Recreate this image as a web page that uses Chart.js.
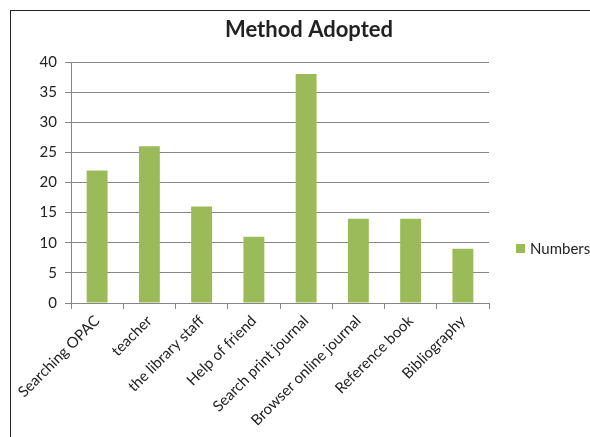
<!DOCTYPE html>
<html>
<head>
<meta charset="utf-8">
<script src="https://cdn.jsdelivr.net/npm/chart.js@4.4.0/dist/chart.umd.min.js"></script>
<style>
  html, body { margin: 0; padding: 0; background: #fff; overflow: hidden; width: 590px; height: 437px; }
  body { position: relative; }
  #frame { position: absolute; left: 10px; top: 10px; width: 580px; height: 427px; border-top: 1.5px solid #222; border-left: 1.5px solid #222; box-sizing: border-box; background: #fff; overflow: hidden; }
  #frame canvas { position: absolute; left: 0; top: 0; }
</style>
</head>
<body>
<div id="frame"><canvas id="c" width="600" height="440"></canvas></div>
<script>
const categories = ["Searching OPAC", "teacher", "the library staff", "Help of friend", "Search print journal", "Browser online journal", "Reference book", "Bibliography"];
const numbers = [22, 26, 16, 11, 38, 14, 14, 9];
const seriesName = "Numbers";
const chartTitle = "Method Adopted";
const yTicks = [0, 5, 10, 15, 20, 25, 30, 35, 40];

const FONT = "Lato, 'Open Sans', sans-serif";
const GREEN = "#9BBB59";
const GRID = "#868686";

const extrasPlugin = {
  id: 'extras',
  afterDraw(chart) {
    const ctx = chart.ctx;
    const ds = chart.data.datasets[0];
    ctx.save();
    // title
    ctx.fillStyle = "#222";
    ctx.font = "bold 22px " + FONT;
    ctx.textAlign = "center";
    ctx.textBaseline = "middle";
    ctx.fillText(chartTitle, 298, 19);
    // legend
    ctx.fillStyle = ds.backgroundColor;
    ctx.fillRect(505, 233, 9, 9);
    ctx.fillStyle = "#222";
    ctx.font = "15px " + FONT;
    ctx.textAlign = "left";
    ctx.fillText(ds.label, 519, 238);
    ctx.restore();
  }
};

new Chart(document.getElementById('c'), {
  type: 'bar',
  data: {
    labels: categories,
    datasets: [{
      label: seriesName,
      data: numbers,
      backgroundColor: GREEN,
      borderWidth: 0,
      barPercentage: 0.4,
      categoryPercentage: 1.0
    }]
  },
  options: {
    responsive: false,
    animation: false,
    devicePixelRatio: 1,
    layout: { padding: { left: 0, right: 122, top: 51, bottom: 0 } },
    plugins: {
      legend: { display: false },
      tooltip: { enabled: false },
      title: { display: false }
    },
    scales: {
      x: {
        grid: { display: true, drawOnChartArea: false, drawTicks: true, tickLength: 6, color: GRID, offset: true },
        border: { display: true, color: GRID, width: 1 },
        ticks: { color: "#222", font: { family: FONT, size: 15 }, minRotation: 45, maxRotation: 45, autoSkip: false, padding: 3 },
        afterFit(scale) { scale.height = 148; }
      },
      y: {
        min: 0, max: 40,
        afterBuildTicks(scale) { scale.ticks = yTicks.map(v => ({ value: v })); },
        grid: { color: GRID, drawTicks: true, tickLength: 6 },
        border: { display: true, color: GRID, width: 1 },
        ticks: { color: "#222", font: { family: FONT, size: 15 }, padding: 8 },
        afterFit(scale) { scale.width = 60; }
      }
    }
  },
  plugins: [extrasPlugin]
});
</script>
</body>
</html>
